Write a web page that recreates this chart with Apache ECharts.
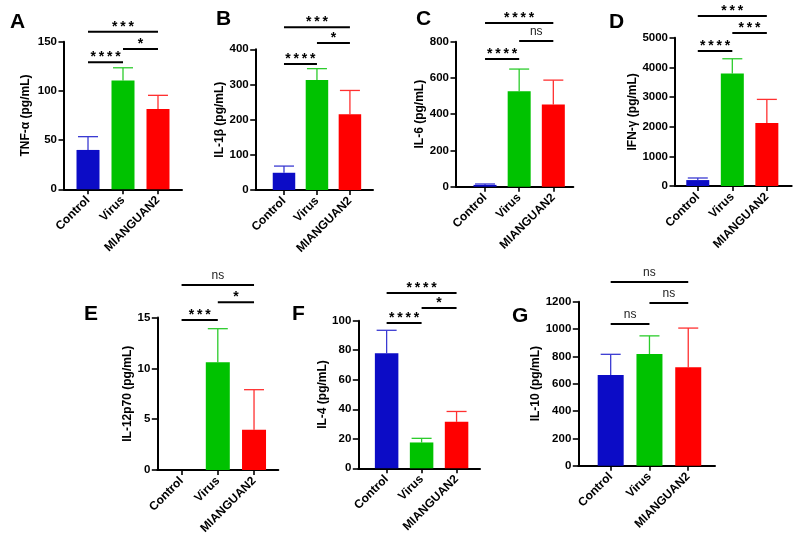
<!DOCTYPE html>
<html><head><meta charset="utf-8">
<script src="https://cdn.jsdelivr.net/npm/echarts@6/dist/echarts.min.js"></script>
<style>html,body{margin:0;padding:0;background:#fff}#c{width:795px;height:543px}</style>
</head><body><div id="c"></div>
<script>
// ---------- DATA ----------
const categories = ['Control', 'Virus', 'MIANGUAN2'];

const tnfMean = [40, 110.5, 81.5];
const tnfSD   = [13.5, 13, 14];
const tnfSig  = [[0, 1, 129, '****'], [1, 2, 142.5, '*'], [0, 2, 160, '***']];

const il1bMean = [49, 313, 215];
const il1bSD   = [19, 32, 68];
const il1bSig  = [[0, 1, 358, '****'], [1, 2, 418, '*'], [0, 2, 463, '***']];

const il6Mean = [10, 526, 454];
const il6SD   = [5, 123, 134];
const il6Sig  = [[0, 1, 704, '****'], [1, 2, 804, 'ns'], [0, 2, 903, '****']];

const ifngMean = [200, 3790, 2120];
const ifngSD   = [70, 500, 800];
const ifngSig  = [[0, 1, 4550, '****'], [1, 2, 5157, '***'], [0, 2, 5730, '***']];

const il12Mean = [0, 10.6, 3.95];
const il12SD   = [0, 3.3, 3.95];
const il12Sig  = [[0, 1, 14.75, '***'], [1, 2, 16.5, '*'], [0, 2, 18.2, 'ns']];

const il4Mean = [78, 17.5, 31.5];
const il4SD   = [15.5, 2.8, 7];
const il4Sig  = [[0, 1, 98.4, '****'], [1, 2, 108.6, '*'], [0, 2, 118.8, '****']];

const il10Mean = [663, 817, 720];
const il10SD   = [152, 133, 287];
const il10Sig  = [[0, 1, 1037, 'ns'], [1, 2, 1190, 'ns'], [0, 2, 1344, 'ns']];

const yNames = ['TNF-α (pg/mL)', 'IL-1β (pg/mL)', 'IL-6 (pg/mL)', 'IFN-γ (pg/mL)', 'IL-12p70 (pg/mL)', 'IL-4 (pg/mL)', 'IL-10 (pg/mL)'];
const yMax = [150, 400, 800, 5000, 15, 100, 1200];
const yInterval = [50, 100, 200, 1000, 5, 20, 200];
const letters = ['A', 'B', 'C', 'D', 'E', 'F', 'G'];

// ---------- STYLE / LAYOUT ----------
const barColors = ['#0c0cc6', '#00c200', '#ff0000'];
const errColors = ['#3a3ad2', '#2ccc2c', '#ff3030'];
const FONT = '"Liberation Sans", Arial, sans-serif';

const layout = [
  {left: 64,    top: 41.7,  width: 118,   height: 147.6, xmin: -0.686, xmax: 2.686, bw: 23,   gap: 32, lx: 5,   ly: 7},
  {left: 255.7, top: 49.3,  width: 117.3, height: 140.7, xmin: -0.858, xmax: 2.70,  bw: 22.5, gap: 26, lx: 211, ly: 4},
  {left: 456,   top: 41.7,  width: 117.3, height: 145,   xmin: -0.85,  xmax: 2.585, bw: 23,   gap: 29, lx: 411, ly: 4},
  {left: 675,   top: 37.7,  width: 116.7, height: 148.3, xmin: -0.66,  xmax: 2.72,  bw: 23,   gap: 36, lx: 604, ly: 7},
  {left: 157.3, top: 317.5, width: 121,   height: 152.5, xmin: -0.67,  xmax: 2.67,  bw: 24,   gap: 24, lx: 79,  ly: 299},
  {left: 358.3, top: 320.7, width: 121.7, height: 147.6, xmin: -0.81,  xmax: 2.67,  bw: 23.5, gap: 28, lx: 287, ly: 299},
  {left: 578.3, top: 301.7, width: 136.7, height: 164,   xmin: -0.835, xmax: 2.69,  bw: 26,   gap: 33, lx: 507, ly: 301}
];

const means = [tnfMean, il1bMean, il6Mean, ifngMean, il12Mean, il4Mean, il10Mean];
const sds = [tnfSD, il1bSD, il6SD, ifngSD, il12SD, il4SD, il10SD];
const sigs = [tnfSig, il1bSig, il6Sig, ifngSig, il12Sig, il4Sig, il10Sig];

const grid = [], xAxis = [], yAxis = [], series = [], title = [];

layout.forEach((L, i) => {
  grid.push({left: L.left, top: L.top, width: L.width, height: L.height, containLabel: false});
  xAxis.push({
    type: 'value', gridIndex: i, min: L.xmin, max: L.xmax,
    splitLine: {show: false},
    axisLine: {show: true, onZero: false, lineStyle: {color: '#000', width: 2}},
    axisTick: {show: true, customValues: [0, 1, 2], length: 5, lineStyle: {color: '#000', width: 1.6}},
    axisLabel: {
      show: true, customValues: [0, 1, 2], rotate: 45, margin: 9,
      formatter: v => categories[Math.round(v)] || '',
      color: '#000', fontWeight: 'bold', fontSize: 12, fontFamily: FONT
    }
  });
  yAxis.push({
    type: 'value', gridIndex: i, min: 0, max: yMax[i], interval: yInterval[i],
    name: yNames[i], nameLocation: 'middle', nameGap: L.gap,
    nameTextStyle: {color: '#000', fontWeight: 'bold', fontSize: 12, fontFamily: FONT},
    splitLine: {show: false},
    axisLine: {show: true, onZero: false, lineStyle: {color: '#000', width: 2}},
    axisTick: {show: true, length: 5.5, lineStyle: {color: '#000', width: 1.6}},
    axisLabel: {color: '#000', fontWeight: 'bold', fontSize: 11.5, fontFamily: FONT, margin: 7,
      formatter: v => String(v)}
  });
  title.push({
    text: letters[i], left: L.lx, top: L.ly,
    textStyle: {color: '#000', fontWeight: 'bold', fontSize: 21, fontFamily: FONT}
  });

  series.push({
    type: 'bar', xAxisIndex: i, yAxisIndex: i, barWidth: L.bw,
    data: means[i].map((v, k) => ({value: [k, v], itemStyle: {color: barColors[k]}})),
    silent: true, animation: false
  });

  series.push({
    type: 'custom', xAxisIndex: i, yAxisIndex: i, silent: true, animation: false, clip: false,
    encode: {x: 0, y: 1},
    data: means[i].map((v, k) => [k, v, sds[i][k]]),
    renderItem: (params, api) => {
      const x = api.value(0), m = api.value(1), s = api.value(2);
      if (!(s > 0)) return null;
      const b = api.coord([x, m]), t = api.coord([x, m + s]);
      const c = errColors[x];
      const half = 10;
      return {type: 'group', children: [
        {type: 'line', shape: {x1: b[0], y1: b[1], x2: t[0], y2: t[1]}, style: {stroke: c, lineWidth: 1.3}},
        {type: 'line', shape: {x1: t[0] - half, y1: t[1], x2: t[0] + half, y2: t[1]}, style: {stroke: c, lineWidth: 1.3}}
      ]};
    }
  });

  const sig = sigs[i];
  series.push({
    type: 'custom', xAxisIndex: i, yAxisIndex: i, silent: true, animation: false, clip: false,
    encode: {x: [0, 1], y: 2},
    data: sig.map(s => [s[0], s[1], s[2]]),
    renderItem: (params, api) => {
      const a = api.coord([api.value(0), api.value(2)]);
      const b = api.coord([api.value(1), api.value(2)]);
      const lbl = sig[params.dataIndex][3];
      const isNs = lbl === 'ns';
      const txt = isNs ? lbl : lbl.split('').join('\u2009');
      return {type: 'group', children: [
        {type: 'line', shape: {x1: a[0], y1: a[1], x2: b[0], y2: b[1]}, style: {stroke: '#000', lineWidth: 2}},
        {type: 'text', x: (a[0] + b[0]) / 2, y: isNs ? a[1] - 3.5 : a[1] + 2,
          style: {text: txt, fill: isNs ? '#222' : '#000', align: 'center', verticalAlign: 'bottom',
            font: (isNs ? 'normal 12px ' : 'bold 14px ') + FONT}}
      ]};
    }
  });
});

const chart = echarts.init(document.getElementById('c'), null, {renderer: 'canvas'});
chart.setOption({animation: false, backgroundColor: '#fff', title, grid, xAxis, yAxis, series});
</script>
</body></html>
